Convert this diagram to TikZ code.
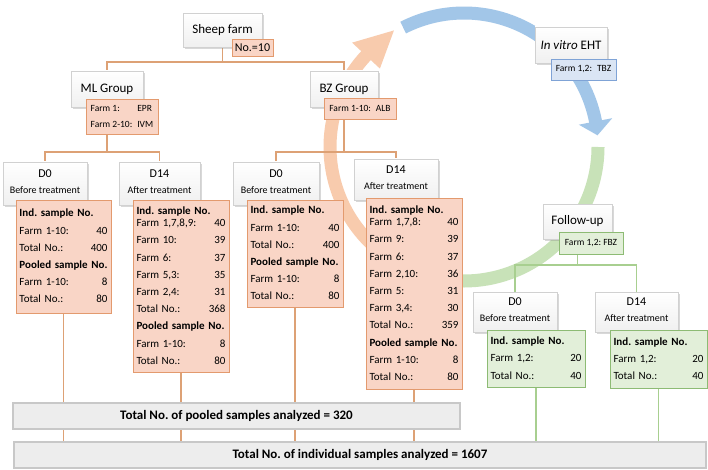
\documentclass[tikz,border=0pt]{standalone}
\usepackage{fontspec}
\setmainfont{Carlito}
\usetikzlibrary{shadows,calc}
\frenchspacing
\pgfdeclarelayer{arcs}
\pgfdeclarelayer{lines}
\pgfsetlayers{arcs,lines,main}
\definecolor{obandc}{HTML}{F8CBAD}
\definecolor{bbandc}{HTML}{A2C6E8}
\definecolor{gbandc}{HTML}{C8E2B8}
\definecolor{ofill}{HTML}{F9D5C6}
\definecolor{odraw}{HTML}{E39A6E}
\definecolor{olinec}{HTML}{DDA175}
\definecolor{gfill}{HTML}{E2EFD9}
\definecolor{gdraw}{HTML}{8DBB74}
\definecolor{glinec}{HTML}{A8CF90}
\definecolor{bfill}{HTML}{DAE5F4}
\definecolor{bdraw}{HTML}{7FA3D6}
\definecolor{barfill}{HTML}{EDEDED}
\definecolor{bardraw}{HTML}{C8C8C8}
\begin{document}
\begin{tikzpicture}[x=1pt,y=-1pt,
  wbox/.style={draw=black!18, top color=white, bottom color=black!6,
    drop shadow={shadow xshift=1.5pt,shadow yshift=-2pt,opacity=0.3},
    inner sep=0pt, align=center},
  hfont/.style={font=\fontsize{13}{15}\selectfont},
  dbox/.style={wbox, font=\fontsize{10}{13}\selectfont, text depth=4pt},
  olab/.style={draw=odraw, fill=ofill, line width=0.8pt, inner sep=0pt},
  glab/.style={draw=gdraw, fill=gfill, line width=0.8pt, inner sep=0pt},
  blab/.style={draw=bdraw, fill=bfill, line width=0.8pt, inner sep=0pt},
  lfont/.style={font=\fontsize{9.5}{16}\selectfont},
  cfont/.style={font=\fontsize{11}{17.2}\selectfont, inner xsep=3.5pt, inner ysep=0pt},
  oconn/.style={draw=olinec, line width=1.1pt},
  gconn/.style={draw=glinec, line width=1.1pt},
  bar/.style={fill=barfill, draw=bardraw, line width=1.2pt, inner sep=0pt,
    font=\bfseries\fontsize{13}{15}\selectfont},
  band/.style={line width=13pt}
]
\begin{pgfonlayer}{arcs}
\useasboundingbox (0,0) rectangle (708,470);
\fill[white] (0,0) rectangle (708,470);
% cycle arcs
\coordinate (cc) at (464,147);
\draw[band, obandc] ($(cc)+(120:134)$) arc[start angle=120, end angle=223.5, radius=134];
\fill[obandc] ($(cc)+(223:115)$) -- ($(cc)+(223:153)$) -- ($(cc)+(239:136)$) -- cycle;
\draw[band, bbandc] ($(cc)+(243:134)$) arc[start angle=243, end angle=349.5, radius=134];
\fill[bbandc] ($(cc)+(349:117)$) -- ($(cc)+(349:151)$) -- ($(cc)+(355:134)$) -- cycle;
\draw[band, gbandc] ($(cc)+(0:134)$) arc[start angle=0, end angle=100, radius=134];
\end{pgfonlayer}

% coordinates for connector levels
\coordinate (t62) at (0,62);
\coordinate (t152) at (0,152);
\coordinate (t265) at (0,265);

% white title boxes
\node[wbox, hfont, minimum width=79pt, minimum height=34pt] (sheep) at (222.5,30) {Sheep farm};
\node[wbox, hfont, minimum width=72pt, minimum height=36pt] (mlg) at (107,89) {ML Group};
\node[wbox, hfont, minimum width=68pt, minimum height=36pt] (bzg) at (344,89) {BZ Group};
\node[wbox, hfont, minimum width=72pt, minimum height=36pt] (vit) at (571,45) {\textit{In vitro} EHT};
\node[wbox, hfont, minimum width=69pt, minimum height=35pt] (fup) at (577.5,221.5) {Follow-up};

% labels
\node[olab, font=\fontsize{12}{14}\selectfont, minimum width=41pt, minimum height=17pt] (nol) at (252.5,47.5) {No.=10};
\node[olab, lfont, minimum width=72pt, minimum height=35pt] (mll) at (122,116.5)
  {\begin{tabular}{@{}l@{\hspace{5pt}}l@{}}Farm 1: & EPR\\ Farm 2-10: & IVM\end{tabular}};
\node[olab, lfont, minimum width=72pt, minimum height=21pt] (bzl) at (360,108.5) {Farm 1-10:\hspace{5pt}ALB};
\node[blab, lfont, minimum width=65pt, minimum height=21pt] (vitl) at (583.5,69.5) {Farm 1,2:\hspace{5pt}TBZ};
\node[glab, lfont, minimum width=64pt, minimum height=22pt] (fupl) at (591,243) {Farm 1,2: FBZ};

% D boxes
\node[dbox, minimum width=84pt, minimum height=43pt] (mld0) at (45,183.5) {{\fontsize{12}{13}\selectfont D0}\\[3pt]Before treatment};
\node[dbox, minimum width=81pt, minimum height=43pt] (mld14) at (159.5,183.5) {{\fontsize{12}{13}\selectfont D14}\\[3pt]After treatment};
\node[dbox, minimum width=86pt, minimum height=43pt] (bzd0) at (276,183.5) {{\fontsize{12}{13}\selectfont D0}\\[3pt]Before treatment};
\node[dbox, minimum width=84pt, minimum height=41pt] (bzd14) at (396,179.5) {{\fontsize{12}{13}\selectfont D14}\\[3pt]After treatment};
\node[dbox, minimum width=84pt, minimum height=40pt] (fd0) at (515,312) {{\fontsize{12}{13}\selectfont D0}\\[3pt]Before treatment};
\node[dbox, minimum width=83pt, minimum height=40pt] (fd14) at (636.5,312) {{\fontsize{12}{13}\selectfont D14}\\[3pt]After treatment};

% bars
\node[bar, minimum width=447pt, minimum height=26pt] (pooled) at (236.5,416) {Total No. of pooled samples analyzed = 320};
\node[bar, minimum width=692pt, minimum height=26pt] (indiv) at (360,455) {Total No. of individual samples analyzed = 1607};

% content boxes
\node[olab, cfont, minimum width=95pt, minimum height=113pt, text width=88pt] (mld0c) at (63.5,256.5)
{\begin{tabular*}{88pt}{@{}l@{\extracolsep{\fill}}r@{}}
\multicolumn{2}{@{}l@{}}{\textbf{Ind. sample No.}}\\
Farm 1-10: & 40\\
Total No.: & 400\\
\multicolumn{2}{@{}l@{}}{\textbf{Pooled sample No.}}\\
Farm 1-10: & 8\\
Total No.: & 80
\end{tabular*}};
\node[olab, cfont, minimum width=96pt, minimum height=172pt, text width=89pt] (mld14c) at (181,286)
{\begin{tabular*}{89pt}{@{}l@{\extracolsep{\fill}}r@{}}
\multicolumn{2}{@{}l@{}}{\textbf{Ind. sample No.}}\\[-5pt]
Farm 1,7,8,9: & 40\\
Farm 10: & 39\\
Farm 6: & 37\\
Farm 5,3: & 35\\
Farm 2,4: & 31\\
Total No.: & 368\\
\multicolumn{2}{@{}l@{}}{\textbf{Pooled sample No.}}\\
Farm 1-10: & 8\\
Total No.: & 80
\end{tabular*}};
\node[olab, cfont, minimum width=96pt, minimum height=107pt, text width=89pt] (bzd0c) at (295,253.5)
{\begin{tabular*}{89pt}{@{}l@{\extracolsep{\fill}}r@{}}
\multicolumn{2}{@{}l@{}}{\textbf{Ind. sample No.}}\\
Farm 1-10: & 40\\
Total No.: & 400\\
\multicolumn{2}{@{}l@{}}{\textbf{Pooled sample No.}}\\
Farm 1-10: & 8\\
Total No.: & 80
\end{tabular*}};
\node[olab, cfont, minimum width=96pt, minimum height=191pt, text width=89pt] (bzd14c) at (414,293.5)
{\begin{tabular*}{89pt}{@{}l@{\extracolsep{\fill}}r@{}}
\multicolumn{2}{@{}l@{}}{\textbf{Ind. sample No.}}\\[-5pt]
Farm 1,7,8: & 40\\
Farm 9: & 39\\
Farm 6: & 37\\
Farm 2,10: & 36\\
Farm 5: & 31\\
Farm 3,4: & 30\\
Total No.: & 359\\
\multicolumn{2}{@{}l@{}}{\textbf{Pooled sample No.}}\\
Farm 1-10: & 8\\
Total No.: & 80
\end{tabular*}};
\node[glab, cfont, minimum width=98pt, minimum height=57pt, text width=91pt] (fd0c) at (536,358.5)
{\begin{tabular*}{91pt}{@{}l@{\extracolsep{\fill}}r@{}}
\multicolumn{2}{@{}l@{}}{\textbf{Ind. sample No.}}\\
Farm 1,2: & 20\\
Total No.: & 40
\end{tabular*}};
\node[glab, cfont, minimum width=97pt, minimum height=58pt, text width=90pt] (fd14c) at (658.5,359)
{\begin{tabular*}{90pt}{@{}l@{\extracolsep{\fill}}r@{}}
\multicolumn{2}{@{}l@{}}{\textbf{Ind. sample No.}}\\
Farm 1,2: & 20\\
Total No.: & 40
\end{tabular*}};

% connectors, behind the boxes
\begin{pgfonlayer}{lines}
\draw[oconn] (sheep.south) -- (sheep.south |- t62) -| (mlg.north);
\draw[oconn] (sheep.south |- t62) -| (bzg.north);
\draw[oconn] (mlg.south) -- (mlg.south |- t152) -| (mld0.north);
\draw[oconn] (mlg.south |- t152) -| (mld14.north);
\draw[oconn] (bzg.south) -- (bzg.south |- t152) -| (bzd0.north);
\draw[oconn] (bzg.south |- t152) -| (bzd14.north);
\draw[gconn] (fup.south) -- (fup.south |- t265) -| (fd0.north);
\draw[gconn] (fup.south |- t265) -| (fd14.north);
\draw[oconn] (mld0c.south) -- (mld0c.south |- indiv.north);
\draw[oconn] (mld14c.south) -- (mld14c.south |- indiv.north);
\draw[oconn] (bzd0c.south) -- (bzd0c.south |- indiv.north);
\draw[oconn] (bzd14c.south) -- (bzd14c.south |- indiv.north);
\draw[gconn] (fd0c.south) -- (fd0c.south |- indiv.north);
\draw[gconn] (fd14c.south) -- (fd14c.south |- indiv.north);
\end{pgfonlayer}
\end{tikzpicture}
\end{document}
